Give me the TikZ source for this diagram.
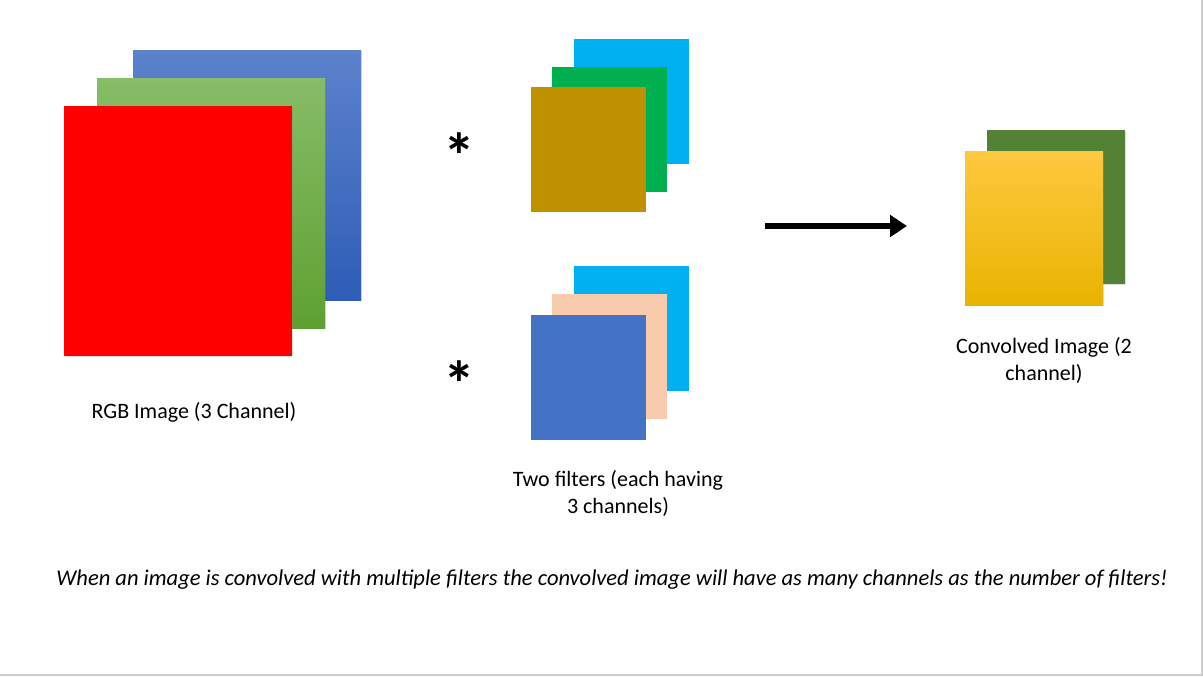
\documentclass[tikz,border=0pt]{standalone}
\usepackage{fontspec}
\setmainfont{Carlito}
\usetikzlibrary{arrows.meta,shadows}
\definecolor{rd}{HTML}{FF0000}
\definecolor{cy}{HTML}{00B0F0}
\definecolor{gn}{HTML}{00B050}
\definecolor{gd}{HTML}{BF9000}
\definecolor{pc}{HTML}{F8CBAD}
\definecolor{bl}{HTML}{4472C4}
\definecolor{dg}{HTML}{548235}
\definecolor{blt}{HTML}{5D82CC}
\definecolor{blb}{HTML}{2E5DB7}
\definecolor{gnt}{HTML}{87BC68}
\definecolor{gnb}{HTML}{5EA130}
\definecolor{ylt}{HTML}{FFC83F}
\definecolor{ylm}{HTML}{FFC400}
\definecolor{ylb}{HTML}{E8B400}
\tikzset{big/.append style={minimum width=171pt, minimum height=187.5pt, inner sep=0pt, drop shadow={opacity=0.25,shadow xshift=1pt,shadow yshift=-1pt}}}
\tikzset{fl/.append style={minimum width=86.25pt, minimum height=93.75pt, inner sep=0pt}}
\tikzset{cv/.append style={minimum width=103.5pt, minimum height=115.5pt, inner sep=0pt, drop shadow={opacity=0.25,shadow xshift=1pt,shadow yshift=-1pt}}}
\tikzset{lb/.append style={font=\fontsize{16.5}{20}\selectfont, align=center, inner sep=0pt}}
\tikzset{st/.append style={font=\fontsize{48}{48}\selectfont\bfseries, inner sep=0pt, anchor=base}}

\begin{document}
\begin{tikzpicture}[x=0.75pt,y=-0.75pt]
                \useasboundingbox (0,0) rectangle (1203,676);
                % \RGB
                \node[big,top color=blt,bottom color=blb] (b) at (247,175) {};
                \node[big,top color=gnt,bottom color=gnb] (g) at (211,203) {};
                \node[big,fill=rd] (r) at (178,230.5) {};
                \node[lb] (rgb) at (194,412) {RGB Image (3 Channel)};
                % filters
                \node[st] (s1) at (459,178) {*};
                \node[fl,fill=cy] (f1c) at (631,101) {};
                \node[fl,fill=gn] (f1g) at (609.5,129.5) {};
                \node[fl,fill=gd] (f1d) at (588.5,149.5) {};
                \node[st] (s2) at (459,406) {*};
                \node[fl,fill=cy] (f2c) at (631,328.5) {};
                \node[fl,fill=pc] (f2p) at (609.5,356.5) {};
                \node[fl,fill=bl] (f2b) at (588.5,377) {};
                \node[lb] (two) at (618,493.5) {Two filters (each having\\3 channels)};
                % output
                \coordinate (p) at (765,226);
                \coordinate (q) at (907,226);
                \draw[line width=4pt,-{Triangle[length=12.75pt,width=16pt]}] (p) -- (q);
                \node[cv,fill=dg] (o2) at (1056,207) {};
                \node[cv,top color=ylt,middle color=ylm,bottom color=ylb] (o1) at (1034,228) {};
                \node[lb] (conv) at (1044,360.5) {Convolved Image (2\\channel)};
                \node[lb,font=\fontsize{16.9}{20}\selectfont\itshape] (note) at (612,580) {When an image is convolved with multiple filters the convolved image will have as many channels as the number of filters!};
                \draw[black!20,line width=1.5pt] (1201.5,0) -- (1201.5,674.5) -- (0,674.5);
            \end{tikzpicture}
\end{document}
